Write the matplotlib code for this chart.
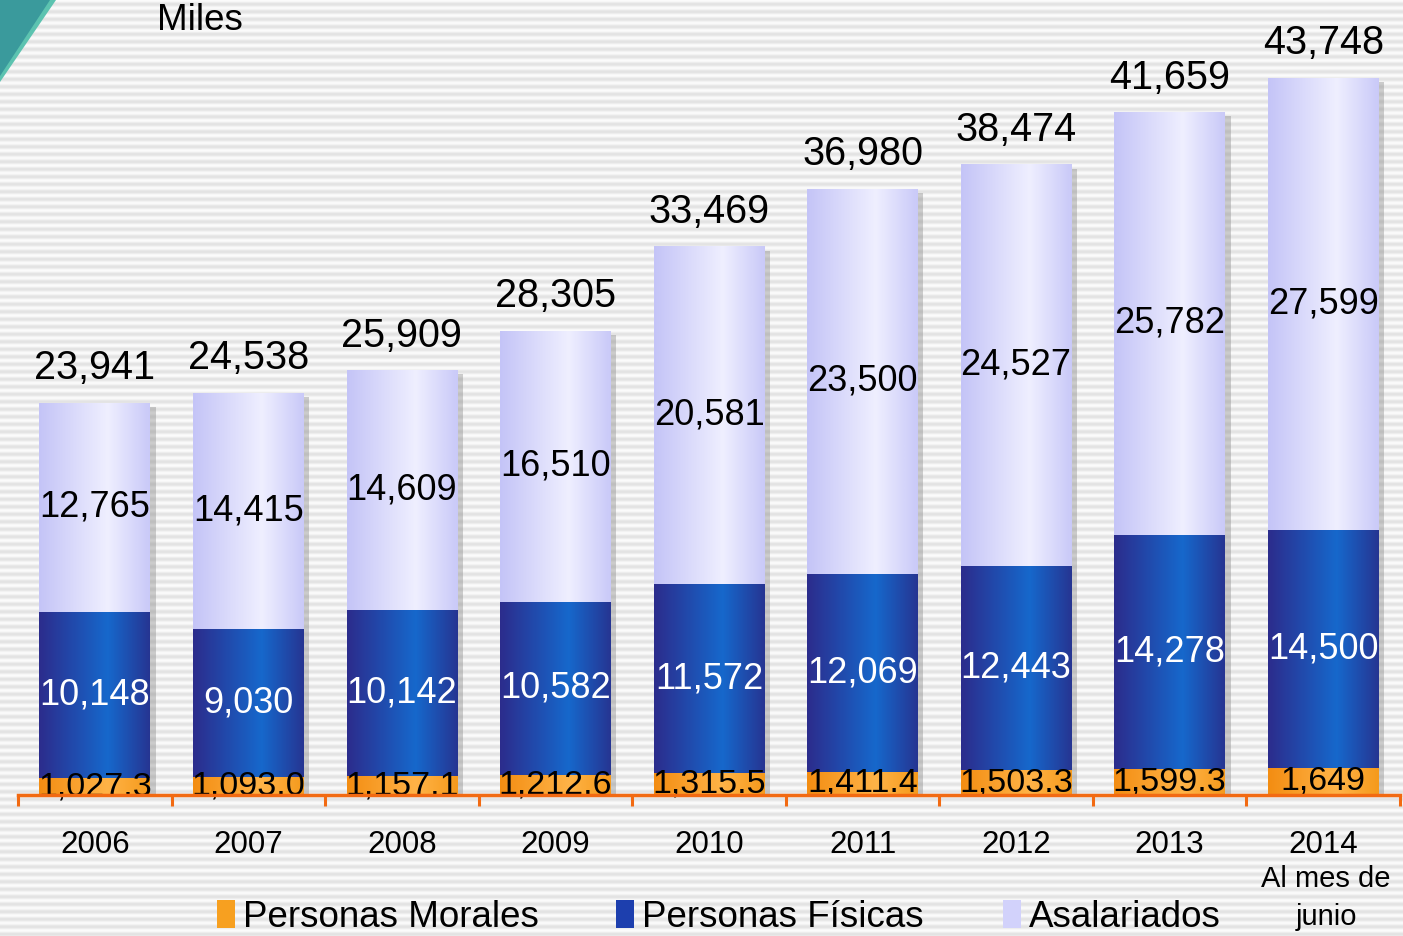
#!/usr/bin/env python3
"""
Contribuyentes activos por tipo, 2006-2014 (miles).
"""

import numpy as np
import matplotlib
matplotlib.use('Agg')
import matplotlib.pyplot as plt
import matplotlib.patheffects as pe
from matplotlib.colors import LinearSegmentedColormap
from matplotlib.patches import Polygon, Rectangle

# Data (miles de contribuyentes)
years = ['2006', '2007', '2008', '2009', '2010', '2011', '2012', '2013', '2014']
morales = [1027.3, 1093.0, 1157.1, 1212.6, 1315.5, 1411.4, 1503.3, 1599.3, 1649]
morales_labels = ['1,027.3', '1,093.0', '1,157.1', '1,212.6', '1,315.5',
                  '1,411.4', '1,503.3', '1,599.3', '1,649']
fisicas = [10148, 9030, 10142, 10582, 11572, 12069, 12443, 14278, 14500]
asalariados = [12765, 14415, 14609, 16510, 20581, 23500, 24527, 25782, 27599]
totals = [23941, 24538, 25909, 28305, 33469, 36980, 38474, 41659, 43748]

W, H = 1403, 936
plt.rcParams['font.family'] = ['Liberation Sans', 'DejaVu Sans']

# Horizontal gradients for each series (left edge -> highlight -> right edge)
GRADIENTS = {
    'morales': ['#f38d12', '#ffb347', '#f59a1c'],
    'fisicas': ['#2c2c8c', '#1668cc', '#263592'],
    'asalariados': ['#c4c4f7', '#efefff', '#c9c9f8'],
}


def gradient_bars(ax, x, heights, bottoms, width, colors):
    """Draw bars and fill them with a horizontal gradient image."""
    cmap = LinearSegmentedColormap.from_list('g', list(zip([0.0, 0.62, 1.0], colors)))
    bars = ax.bar(x, heights, width, bottom=bottoms, color=colors[0],
                  linewidth=0, zorder=2,
                  path_effects=[pe.SimplePatchShadow(offset=(4, -3), shadow_rgbFace='#888888', alpha=0.4),
                                pe.Normal()])
    grad = np.linspace(0, 1, 256).reshape(1, -1)
    for bar in bars:
        x0, y0 = bar.get_x(), bar.get_y()
        img = ax.imshow(grad, extent=[x0, x0 + bar.get_width(), y0, y0 + bar.get_height()],
                        aspect='auto', cmap=cmap, zorder=3, interpolation='bilinear')
        img.set_clip_path(bar)
    return bars


fig = plt.figure(figsize=(W / 100, H / 100), dpi=100)

# Striped background and corner decoration
bg = fig.add_axes([0, 0, 1, 1], zorder=-1)
rows = np.arange(H)
stripes = 0.5 + 0.5 * np.cos(2 * np.pi * rows / 7.5)
bg_cmap = LinearSegmentedColormap.from_list('bg', ['#e3e3e3', '#fbfbfb'])
bg.imshow(stripes.reshape(-1, 1), extent=[0, W, H, 0], aspect='auto',
          cmap=bg_cmap, interpolation='nearest')
bg.add_patch(Polygon([(0, 0), (56, 0), (0, 82)], closed=True, facecolor='#5cc3b0', edgecolor='none'))
bg.add_patch(Polygon([(0, 0), (50, 0), (0, 76)], closed=True, facecolor='#3a9a9c', edgecolor='none'))
bg.set_xlim(0, W)
bg.set_ylim(H, 0)
bg.axis('off')

ax = fig.add_axes([18 / W, 141 / H, 1382 / W, 795 / H])
ax.set_facecolor('none')

x = np.arange(len(years))
width = 0.72
bottom_fis = np.array(morales)
bottom_asa = bottom_fis + np.array(fisicas)

gradient_bars(ax, x, morales, 0, width, GRADIENTS['morales'])
gradient_bars(ax, x, fisicas, bottom_fis, width, GRADIENTS['fisicas'])
gradient_bars(ax, x, asalariados, bottom_asa, width, GRADIENTS['asalariados'])

# Value labels
for i in range(len(years)):
    ax.text(x[i], morales[i] / 2, morales_labels[i], ha='center', va='center',
            fontsize=24.5, color='black', zorder=5)
    ax.text(x[i], bottom_fis[i] + fisicas[i] / 2, f"{fisicas[i]:,}", ha='center', va='center',
            fontsize=26, color='white', zorder=5)
    ax.text(x[i], bottom_asa[i] + asalariados[i] / 2, f"{asalariados[i]:,}", ha='center',
            va='center', fontsize=26, color='black', zorder=5)
    ax.annotate(f"{totals[i]:,}", xy=(x[i], totals[i]), xytext=(0, 17),
                textcoords='offset points', ha='center', va='baseline',
                fontsize=28.5, color='black', zorder=5)

ax.set_xlim(-0.5, len(years) - 0.5)
ax.set_ylim(0, 48500)

# Orange category axis with ticks between categories
for side in ['top', 'right', 'left']:
    ax.spines[side].set_visible(False)
ax.spines['bottom'].set_color('#f26a12')
ax.spines['bottom'].set_linewidth(2.5)
ax.spines['bottom'].set_zorder(6)
ax.set_yticks([])
ax.set_xticks(x, years, fontsize=22.5)
ax.set_xticks(np.arange(-0.5, len(years), 1), minor=True)
ax.tick_params(axis='x', which='major', length=0, pad=25)
ax.tick_params(axis='x', which='minor', length=8, width=2.2, color='#f26a12', direction='out')

fig.text(1326 / W, 1 - 887 / H, 'Al mes de', ha='center', va='baseline', fontsize=21)
fig.text(1326 / W, 1 - 925 / H, 'junio', ha='center', va='baseline', fontsize=21)

fig.text(157 / W, 1 - 30 / H, 'Miles', ha='left', va='baseline', fontsize=26.5)

# Legend
legend_items = [('Personas Morales', '#f7a020', 217),
                ('Personas Físicas', '#1d3fae', 616),
                ('Asalariados', '#d2d2fb', 1003)]
for label, color, px in legend_items:
    fig.add_artist(Rectangle((px / W, 8 / H), 18 / W, 28 / H, transform=fig.transFigure,
                             facecolor=color, edgecolor='none'))
    fig.text((px + 26) / W, 9 / H, label, ha='left', va='baseline', fontsize=26.5)

fig.savefig('out.png', dpi=100)
